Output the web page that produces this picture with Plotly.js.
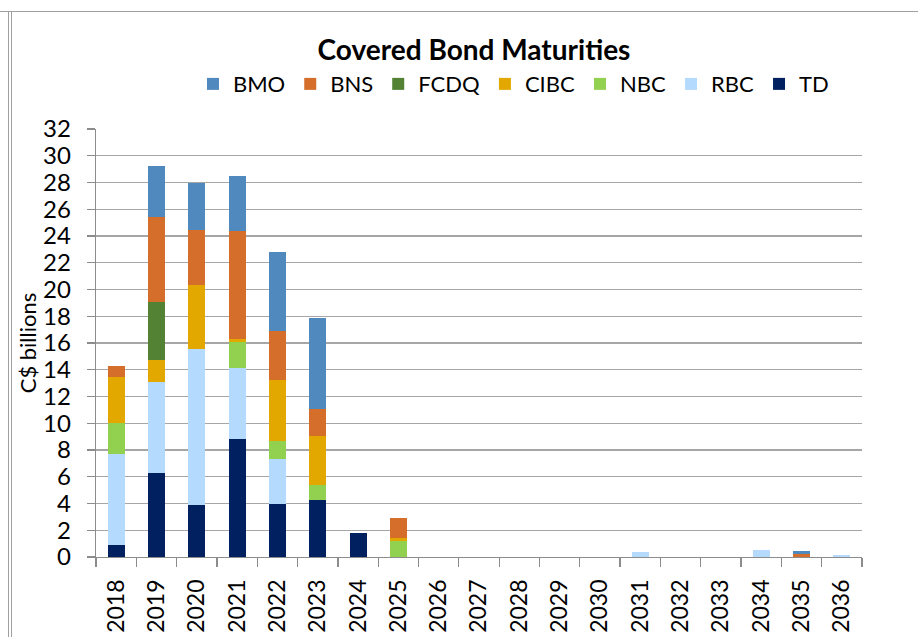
<!DOCTYPE html>
<html>
<head>
<meta charset="utf-8">
<script src="https://cdn.plot.ly/plotly-3.0.1.min.js"></script>
<style>
  html, body { margin:0; padding:0; background:#fff; }
  #chart { width:918px; height:637px; }
  .frame-top { position:absolute; left:0; right:0; top:11px; height:0; border-top:1px solid #a0a0a0; pointer-events:none; }
  .frame-left { position:absolute; left:8px; top:11px; bottom:0; width:2px; border-left:1px solid #a0a0a0; border-right:1px solid #a0a0a0; pointer-events:none; }
</style>
</head>
<body>
<div id="chart"></div>
<div class="frame-top"></div>
<div class="frame-left"></div>
<script>
const years = ["2018","2019","2020","2021","2022","2023","2024","2025","2026","2027","2028","2029","2030","2031","2032","2033","2034","2035","2036"];
const TD   = [0.9, 6.25, 3.9, 8.8, 3.95, 4.25, 1.8, 0, 0, 0, 0, 0, 0, 0, 0, 0, 0, 0, 0];
const RBC  = [6.8, 6.8, 11.65, 5.3, 3.35, 0, 0, 0, 0, 0, 0, 0, 0, 0.38, 0, 0, 0.55, 0, 0.15];
const NBC  = [2.35, 0, 0, 1.95, 1.4, 1.1, 0, 1.18, 0, 0, 0, 0, 0, 0, 0, 0, 0, 0, 0];
const CIBC = [3.4, 1.65, 4.8, 0.25, 4.5, 3.7, 0, 0.27, 0, 0, 0, 0, 0, 0, 0, 0, 0, 0, 0];
const FCDQ = [0, 4.4, 0, 0, 0, 0, 0, 0, 0, 0, 0, 0, 0, 0, 0, 0, 0, 0, 0];
const BNS  = [0.8, 6.3, 4.1, 8.1, 3.7, 2.0, 0, 1.5, 0, 0, 0, 0, 0, 0, 0, 0, 0, 0.25, 0];
const BMO  = [0, 3.8, 3.5, 4.1, 5.9, 6.8, 0, 0, 0, 0, 0, 0, 0, 0, 0, 0, 0, 0.2, 0];
const yTicks = [0,2,4,6,8,10,12,14,16,18,20,22,24,26,28,30,32];

const series = [
  {name:"TD",   y:TD,   color:"#002060"},
  {name:"RBC",  y:RBC,  color:"#B4DAFD"},
  {name:"NBC",  y:NBC,  color:"#92D050"},
  {name:"CIBC", y:CIBC, color:"#E2A800"},
  {name:"FCDQ", y:FCDQ, color:"#548235"},
  {name:"BNS",  y:BNS,  color:"#D46E2A"},
  {name:"BMO",  y:BMO,  color:"#4F89BD"}
];

const FONT = "Lato, 'Open Sans', sans-serif";

const traces = series.map(s => ({
  type:"bar", name:s.name, x:years, y:s.y,
  marker:{color:s.color, line:{width:0}},
  hoverinfo:"skip"
}));

const layout = {
  width:918, height:637,
  paper_bgcolor:"rgba(0,0,0,0)", plot_bgcolor:"#fff",
  margin:{l:96, r:56, t:129, b:80},
  barmode:"stack", bargap:0.58,
  font:{family:FONT, color:"#000"},
  title:{text:"<b>Covered Bond Maturities</b>", font:{family:FONT, size:28, color:"#000"},
         xref:"paper", x:0.4935, xanchor:"center", yref:"container", y:0.921, yanchor:"middle"},
  showlegend:true,
  legend:{orientation:"h", traceorder:"reversed", font:{family:FONT, size:22, color:"#000"},
          xref:"paper", x:0.545, xanchor:"center", yref:"container", y:0.868, yanchor:"middle",
          itemwidth:30, tracegroupgap:0, bgcolor:"rgba(0,0,0,0)"},
  xaxis:{type:"category", tickson:"boundaries", ticks:"outside", ticklen:9, tickcolor:"#8c8c8c", tickwidth:1.3,
         showline:true, linecolor:"#8c8c8c", linewidth:1.3, showgrid:false,
         tickangle:-90, tickfont:{family:FONT, size:23, color:"#000"}, ticklabelstandoff:12, automargin:false},
  yaxis:{range:[0,32], tickvals:yTicks, ticks:"outside", ticklen:8, tickcolor:"#8c8c8c", tickwidth:1.3,
         showline:true, linecolor:"#8c8c8c", linewidth:1.3, showgrid:true, gridcolor:"#a6a6a6", gridwidth:1.3,
         zeroline:false, tickfont:{family:FONT, size:24, color:"#000"}, ticklabelstandoff:11,
         title:{text:"C$ billions", font:{family:FONT, size:22, color:"#000"}, standoff:0}, automargin:false}
};

Plotly.newPlot("chart", traces, layout, {staticPlot:true, displayModeBar:false});
</script>
</body>
</html>
